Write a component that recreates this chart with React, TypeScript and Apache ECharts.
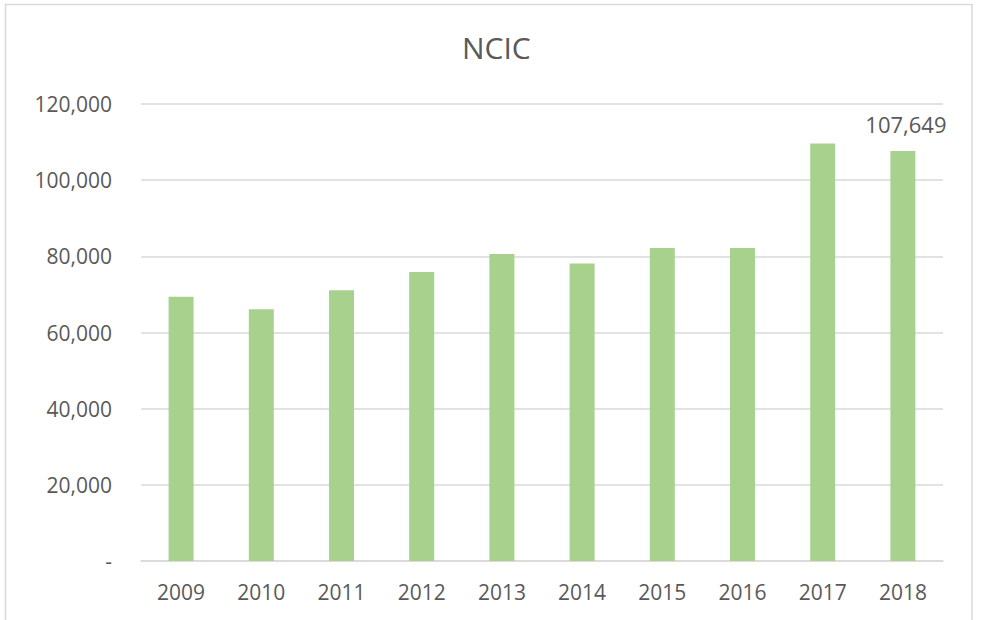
import React, { useEffect, useRef } from "react";
import * as echarts from "echarts";

const categories = ["2009", "2010", "2011", "2012", "2013", "2014", "2015", "2016", "2017", "2018"];
const values = [69400, 66100, 71100, 75900, 80600, 78100, 82200, 82200, 109600, 107649];
const labeledIndex = 9;
const yTicks = [0, 20000, 40000, 60000, 80000, 100000, 120000];

const textColor = "#595959";
const fontFamily = "'Open Sans', 'Noto Sans', sans-serif";

export default function App() {
  const ref = useRef<HTMLDivElement>(null);
  useEffect(() => {
    if (!ref.current) return;
    const chart = echarts.init(ref.current, undefined, { renderer: "svg" });
    chart.setOption({
      animation: false,
      backgroundColor: "#ffffff",
      title: {
        text: "NCIC",
        left: 457,
        top: 27,
        textStyle: { color: textColor, fontSize: 30, fontWeight: "normal", fontFamily },
      },
      graphic: [
        {
          type: "rect",
          shape: { x: 5.5, y: 4.5, width: 966.5, height: 640 },
          style: { fill: "none", stroke: "#D9D9D9", lineWidth: 1.5 },
          silent: true,
        },
      ],
      grid: { left: 141, right: 38, top: 104, bottom: 59 },
      xAxis: {
        type: "category",
        data: categories,
        axisLine: { show: true, lineStyle: { color: "#D9D9D9", width: 1.5 } },
        axisTick: { show: false },
        axisLabel: { color: textColor, fontSize: 21, fontFamily, margin: 20 },
      },
      yAxis: {
        type: "value",
        min: yTicks[0],
        max: yTicks[yTicks.length - 1],
        interval: 20000,
        axisLine: { show: false },
        axisTick: { show: false },
        splitLine: { lineStyle: { color: "#D9D9D9", width: 1.5 } },
        axisLabel: {
          color: textColor,
          fontSize: 21,
          fontFamily,
          margin: 29,
          formatter: (v: number) => (v === 0 ? "-" : v.toLocaleString("en-US")),
        },
      },
      series: [
        {
          type: "bar",
          data: values.map((v, i) =>
            i === labeledIndex
              ? {
                  value: v,
                  label: {
                    show: true,
                    position: "top",
                    distance: 16,
                    offset: [3, 0],
                    color: textColor,
                    fontSize: 22,
                    fontFamily,
                    formatter: (p: any) => Number(p.value).toLocaleString("en-US"),
                  },
                }
              : v
          ),
          barWidth: 25,
          itemStyle: { color: "#A9D18E" },
        },
      ],
    });
    return () => chart.dispose();
  }, []);
  return (
    <div
      ref={ref}
      style={{ position: "fixed", left: 0, top: 0, width: 981, height: 620, background: "#fff" }}
    />
  );
}
